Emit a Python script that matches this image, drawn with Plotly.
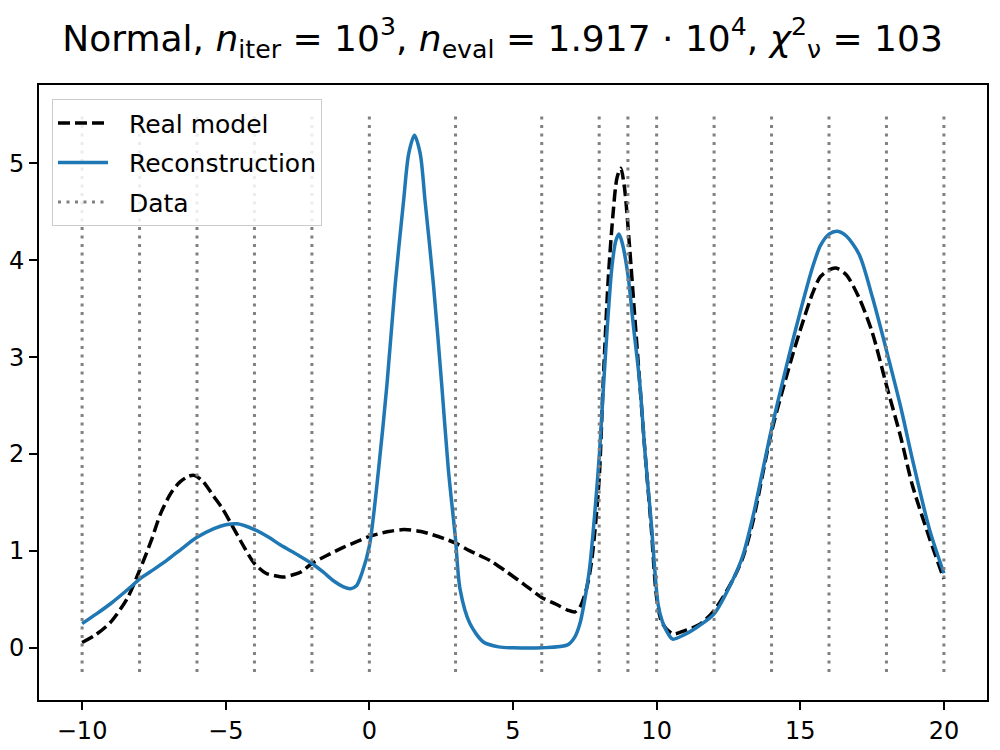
import plotly.graph_objects as go

# ---- data ----
real_x = [-10, -9.5, -8.99, -8.41, -8.0, -7.6, -7.26, -6.9, -6.6, -6.3, -6.1, -5.8, -5.41, -5.1,
          -4.83, -4.36, -4.0, -3.6, -3.3, -2.98, -2.7, -2.4, -2.0, -1.5, -0.89, -0.4, 0.0, 0.67,
          1.2, 1.8, 2.58, 3.0, 3.5, 4.2, 4.8, 5.36, 6.0, 6.5, 6.9, 7.15, 7.33, 7.55, 7.73, 7.99,
          8.14, 8.31, 8.48, 8.62, 8.75, 8.88, 9.06, 9.23, 9.41, 9.6, 9.81, 10.0, 10.2, 10.57,
          11.0, 11.49, 12.0, 12.65, 13.0, 13.35, 14.0, 14.73, 15.0, 15.43, 15.7, 16.0, 16.24, 16.6,
          17.05, 17.5, 18.0, 18.5, 18.9, 19.5, 20.0]
real_y = [0.055, 0.14, 0.27, 0.52, 0.80, 1.10, 1.39, 1.60, 1.71, 1.77, 1.78, 1.72, 1.56, 1.43,
          1.29, 1.04, 0.87, 0.77, 0.745, 0.73, 0.75, 0.78, 0.87, 0.95, 1.04, 1.10, 1.15, 1.20,
          1.22, 1.20, 1.13, 1.08, 1.00, 0.90, 0.78, 0.66, 0.52, 0.45, 0.39, 0.37, 0.42, 0.60, 0.88, 1.70,
          2.74, 3.78, 4.47, 4.85, 4.95, 4.75, 4.13, 3.45, 2.74, 2.00, 1.25, 0.52, 0.25, 0.145,
          0.18, 0.24, 0.385, 0.70, 0.93, 1.30, 2.23, 3.02, 3.28, 3.66, 3.83, 3.90, 3.92, 3.85,
          3.61, 3.26, 2.71, 2.17, 1.68, 1.13, 0.71]

recon_x = [-10, -9.5, -8.99, -8.3, -8.0, -7.5, -7.02, -6.5, -6.0, -5.41, -5.0, -4.6, -4.0, -3.5,
           -3.09, -2.5, -2.0, -1.6, -1.24, -0.9, -0.66, -0.45, -0.26, 0.0, 0.32, 0.61, 0.9, 1.19,
           1.37, 1.57, 1.77, 1.94, 2.23, 2.52, 2.75, 2.99, 3.16, 3.5, 3.97, 4.5, 5.0, 6.0, 6.9,
           7.15, 7.33, 7.5, 7.67, 7.85, 8.02, 8.15, 8.31, 8.45, 8.58, 8.69, 8.8, 9.0, 9.2, 9.41,
           9.6, 9.81, 10.05, 10.2, 10.39, 10.56, 11.0, 11.49, 12.0, 12.65, 13.0, 13.35, 14.0,
           14.73, 15.0, 15.43, 15.7, 16.0, 16.3, 16.6, 17.05, 17.5, 18.0, 18.5, 18.9, 19.5, 20.0]
recon_y = [0.25, 0.35, 0.46, 0.63, 0.71, 0.81, 0.91, 1.03, 1.14, 1.23, 1.27, 1.28, 1.22, 1.14,
           1.06, 0.96, 0.87, 0.78, 0.69, 0.63, 0.61, 0.64, 0.77, 1.05, 1.84, 2.71, 3.75, 4.61,
           5.10, 5.29, 5.10, 4.61, 3.75, 2.71, 1.84, 1.15, 0.60, 0.25, 0.06, 0.01, 0.0, 0.0, 0.03,
           0.11, 0.25, 0.50, 0.83, 1.40, 2.05, 2.70, 3.43, 3.95, 4.20, 4.27, 4.18, 3.85, 3.30, 2.74,
           2.00, 1.30, 0.45, 0.27, 0.15, 0.09, 0.14, 0.23, 0.35, 0.70, 0.95, 1.35, 2.26,
           3.16, 3.47, 3.93, 4.15, 4.27, 4.30, 4.25, 4.06, 3.63, 3.07, 2.48, 1.95, 1.22, 0.77]

data_x = [-10, -8, -6, -4, -2, 0, 3, 6, 8, 9, 10, 12, 14, 16, 18, 20]
data_ymin = -0.25
data_ymax = 5.52

# vertical dotted lines as one trace separated by None
vx, vy = [], []
for xv in data_x:
    vx += [xv, xv, None]
    vy += [data_ymin, data_ymax, None]

FONT = "DejaVu Sans"
PAD = "\u00a0\u00a0"

fig = go.Figure()
fig.add_trace(go.Scatter(x=real_x, y=real_y, mode="lines", name=PAD + "Real model",
                         line=dict(color="black", width=3.5, dash="12px,5px", shape="spline", smoothing=0.8),
                         legendgroup="a"))
fig.add_trace(go.Scatter(x=recon_x, y=recon_y, mode="lines", name=PAD + "Reconstruction",
                         line=dict(color="#1f77b4", width=3.5, shape="spline", smoothing=0.8),
                         legendgroup="b"))
fig.add_trace(go.Scatter(x=vx, y=vy, mode="lines", name=PAD + "Data",
                         line=dict(color="#808080", width=3, dash="3px,5.5px"),
                         legendgroup="c"))

axis_common = dict(showgrid=False, zeroline=False, showline=True, linecolor="black", linewidth=2,
                   mirror=True, ticks="outside", ticklen=8, tickwidth=2, tickcolor="black",
                   automargin=False,
                   tickfont=dict(family=FONT, size=24, color="black"))

fig.update_layout(
    width=1000, height=750,
    margin=dict(l=39, r=13, t=85, b=50),
    paper_bgcolor="white", plot_bgcolor="white",
    font=dict(family=FONT, color="black"),
    title=dict(
        text="Normal, <i>n</i><sub>iter</sub> = 10<sup>3</sup>, <i>n</i><sub>eval</sub> = 1.917 · 10<sup>4</sup>, <i>χ</i><sup>2</sup><sub>ν</sub> = 103",
        x=0.489, xref="paper", xanchor="center",
        y=1 - 38 / 750, yref="container", yanchor="middle",
        font=dict(family=FONT, size=36, color="black")),
    xaxis=dict(range=[-11.5, 21.5], tickvals=[-10, -5, 0, 5, 10, 15, 20], **axis_common),
    yaxis=dict(range=[-0.5385, 5.8085], tickvals=[0, 1, 2, 3, 4, 5], **axis_common),
    legend=dict(x=0.0137, y=0.977, xanchor="left", yanchor="top",
                bgcolor="rgba(255,255,255,0.85)", bordercolor="#cccccc", borderwidth=1,
                font=dict(family=FONT, size=25, color="black"), tracegroupgap=4,
                itemwidth=50),
    showlegend=True,
)

fig.write_html("out.html")
